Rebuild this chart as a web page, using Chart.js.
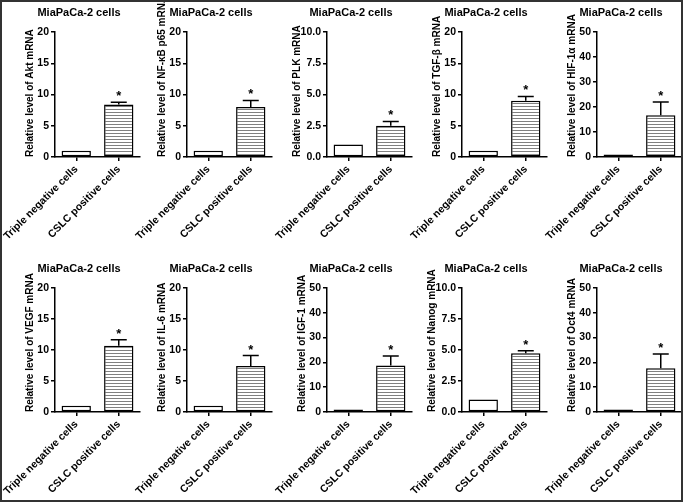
<!DOCTYPE html>
<html>
<head>
<meta charset="utf-8">
<script src="https://cdn.jsdelivr.net/npm/chart.js@4.4.1/dist/chart.umd.min.js"></script>
<style>
  html, body { margin: 0; padding: 0; background: #fff; }
  #page { position: relative; width: 683px; height: 502px; overflow: hidden; background: #fff; }
  #page .panel { position: absolute; }
  #frame { position: absolute; left: 0; top: 0; width: 683px; height: 502px; box-sizing: border-box; border: 2px solid #333; pointer-events: none; }
</style>
</head>
<body>
<div id="page"><div id="frame"></div></div>
<script>
// ===== DATOS =====
const panelTitle = 'MiaPaCa-2 cells';
const categories = ['Triple negative cells', 'CSLC positive cells'];
const yTitles = [
  'Relative level of Akt mRNA', 'Relative level of NF-\u03BAB p65 mRNA', 'Relative level of PLK mRNA',
  'Relative level of TGF-\u03B2 mRNA', 'Relative level of HIF-1\u03B1 mRNA',
  'Relative level of VEGF mRNA', 'Relative level of IL-6 mRNA', 'Relative level of IGF-1 mRNA',
  'Relative level of Nanog mRNA', 'Relative level of Oct4 mRNA'
];
const negValues = [1, 1, 1, 1, 1, 1, 1, 1, 1, 1];
const posValues = [8.4, 8.0, 2.5, 9.0, 16.7, 10.7, 7.4, 18.8, 4.73, 17.6];
const posErrors = [0.35, 1.05, 0.35, 0.7, 5.3, 0.95, 1.7, 3.8, 0.2, 5.8];
const yMax = [20, 20, 10, 20, 50, 20, 20, 50, 10, 50];
const yStep = [5, 5, 2.5, 5, 10, 5, 5, 10, 2.5, 10];

// ===== LAYOUT =====
const colAxisX = [55, 187, 327, 462, 597];
const rowTop = [32, 288];
const rowPlotH = [125, 124];
const FONT = '"Liberation Sans", Arial, sans-serif';

function makeStripes() {
  const c = document.createElement('canvas');
  c.width = 4; c.height = 3;
  const g = c.getContext('2d');
  g.fillStyle = '#fff'; g.fillRect(0, 0, 4, 3);
  g.fillStyle = '#808080'; g.fillRect(0, 0, 4, 1);
  return g.createPattern(c, 'repeat');
}
const stripes = makeStripes();

// barras de error + asterisco + título del panel
const errBars = {
  id: 'errBars',
  afterDatasetsDraw(chart, args, opts) {
    const ctx = chart.ctx;
    const meta = chart.getDatasetMeta(0);
    const ys = chart.scales.y;
    ctx.save();
    ctx.strokeStyle = '#000';
    ctx.lineWidth = 1.5;
    meta.data.forEach((bar, i) => {
      const err = opts.errors[i];
      if (!err) return;
      const v = chart.data.datasets[0].data[i];
      const yTop = ys.getPixelForValue(v + err);
      ctx.beginPath();
      ctx.moveTo(bar.x, bar.y);
      ctx.lineTo(bar.x, yTop);
      ctx.moveTo(bar.x - 8, yTop);
      ctx.lineTo(bar.x + 8, yTop);
      ctx.stroke();
      if (opts.stars[i]) {
        ctx.fillStyle = '#000';
        ctx.font = 'bold 13px ' + FONT;
        ctx.textAlign = 'center';
        ctx.textBaseline = 'alphabetic';
        ctx.fillText('*', bar.x, yTop - 2);
      }
    });
    ctx.restore();
  },
  afterDraw(chart) {
    const ctx = chart.ctx, ca = chart.chartArea;
    ctx.save();
    ctx.fillStyle = '#000';
    ctx.font = 'bold 11px ' + FONT;
    ctx.textAlign = 'center';
    ctx.textBaseline = 'middle';
    ctx.fillText(panelTitle, ca.left + 24, ca.top - 19);
    ctx.restore();
  }
};

const page = document.getElementById('page');
for (let i = 0; i < 10; i++) {
  const row = Math.floor(i / 5), col = i % 5;
  const W = 210, H = 40 + rowPlotH[row] + 85;
  const wrap = document.createElement('div');
  wrap.className = 'panel';
  const cv = document.createElement('canvas');
  cv.width = W; cv.height = H;
  cv.style.width = W + 'px'; cv.style.height = H + 'px';
  wrap.appendChild(cv);
  page.insertBefore(wrap, document.getElementById('frame'));

  const small = yStep[i] < 5;
  const chart = new Chart(cv.getContext('2d'), {
    type: 'bar',
    data: {
      labels: categories,
      datasets: [{
        data: [negValues[i], posValues[i]],
        backgroundColor: ['#fff', stripes],
        borderColor: '#000',
        borderWidth: 1.5,
        borderSkipped: false,
        barPercentage: 0.69,
        categoryPercentage: 1
      }]
    },
    options: {
      responsive: false,
      animation: false,
      devicePixelRatio: 1,
      layout: { padding: { top: 40, left: 70, right: 10, bottom: 0 } },
      plugins: {
        legend: { display: false },
        tooltip: { enabled: false },
        errBars: { errors: [0, posErrors[i]], stars: [false, true] }
      },
      scales: {
        x: {
          grid: { drawOnChartArea: false, drawTicks: true, tickLength: 4, color: '#000', lineWidth: 1.5, offset: false },
          border: { display: true, color: '#000', width: 1.5 },
          ticks: { color: '#000', font: { family: FONT, size: 10.5, weight: 'bold' }, minRotation: 45, maxRotation: 45, padding: 2, autoSkip: false },
          afterFit(s) { s.height = 85; }
        },
        y: {
          min: 0,
          max: yMax[i],
          grid: { drawOnChartArea: false, drawTicks: true, tickLength: 4, color: '#000', lineWidth: 1.5 },
          border: { display: true, color: '#000', width: 1.5 },
          ticks: {
            stepSize: yStep[i], color: '#000', padding: 2,
            font: { family: FONT, size: 10.5, weight: 'bold' },
            callback: v => small ? Number(v).toFixed(1) : v
          },
          title: {
            display: true, text: yTitles[i], align: 'start', color: '#000',
            font: { family: FONT, size: 10, weight: 'bold' },
            padding: { top: small ? 9 : 14, bottom: 0 }
          },
          afterFit(s) { s.width = 45; }
        }
      }
    },
    plugins: [errBars]
  });

  const ca = chart.chartArea;
  wrap.style.left = (colAxisX[col] - ca.left) + 'px';
  wrap.style.top = (rowTop[row] - ca.top) + 'px';
}
</script>
</body>
</html>
